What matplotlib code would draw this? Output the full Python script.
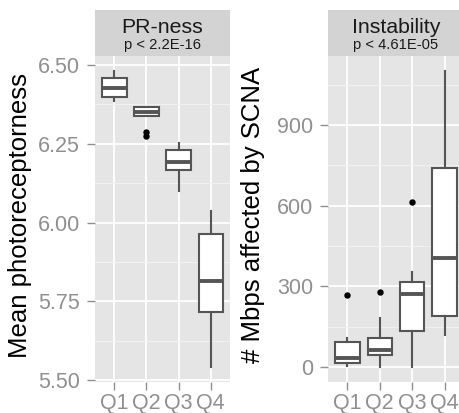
import matplotlib
matplotlib.use('Agg')
import matplotlib.pyplot as plt

plt.rcParams['font.family'] = ['Liberation Sans', 'DejaVu Sans']

# quartile groups
groups = ["Q1", "Q2", "Q3", "Q4"]

# left panel: mean photoreceptorness (box stats)
pr_med = [6.426, 6.352, 6.191, 5.813]
pr_q1 = [6.397, 6.338, 6.168, 5.717]
pr_q3 = [6.458, 6.366, 6.229, 5.964]
pr_lo = [6.387, 6.338, 6.099, 5.542]
pr_hi = [6.481, 6.366, 6.253, 6.038]
pr_out = [[], [6.287, 6.276], [], []]

# right panel: Mbps affected by SCNA
scna_med = [33, 62, 272, 407]
scna_q1 = [16, 43, 134, 191]
scna_q3 = [93, 108, 315, 740]
scna_lo = [3, 0, 0, 119]
scna_hi = [109, 184, 355, 1101]
scna_out = [[269], [278], [613], []]

W, H = 459, 413
fig = plt.figure(figsize=(W / 100, H / 100), dpi=100)
fig.patch.set_facecolor('white')

box_col = '#555555'
tick_col = '#909090'


def panel(x0, x1, ylim, ticks, minor, ticklabels, med, q1, q3, lo, hi, out,
          title, sub, ylabel, ylabel_x):
    top, bot = 56, 382
    ax = fig.add_axes([x0 / W, (H - bot) / H, (x1 - x0) / W, (bot - top) / H])
    ax.set_facecolor('#e5e5e5')
    stats = []
    for i, g in enumerate(groups):
        stats.append(dict(med=med[i], q1=q1[i], q3=q3[i], whislo=lo[i],
                          whishi=hi[i], fliers=out[i], label=g))
    ax.bxp(stats, positions=range(1, 5), widths=0.76, patch_artist=True,
           showcaps=False,
           boxprops=dict(facecolor='white', edgecolor=box_col, linewidth=1.5),
           whiskerprops=dict(color=box_col, linewidth=1.5),
           medianprops=dict(color=box_col, linewidth=2.8, solid_capstyle='butt'),
           flierprops=dict(marker='o', markerfacecolor='black',
                           markeredgecolor='black', markersize=3.6))
    ax.set_xlim(0.4, 4.6)
    ax.set_ylim(*ylim)
    ax.set_yticks(ticks)
    ax.set_yticklabels(ticklabels)
    ax.set_yticks(minor, minor=True)
    ax.grid(which='major', color='white', linewidth=1.3)
    ax.grid(which='minor', axis='y', color='#f2f2f2', linewidth=0.7)
    ax.set_axisbelow(True)
    for s in ax.spines.values():
        s.set_visible(False)
    ax.tick_params(which='major', length=5.8, width=1.0, color=tick_col,
                   labelcolor=tick_col, labelsize=15.5, pad=5)
    ax.tick_params(axis='x', pad=2)
    ax.tick_params(which='minor', length=0)

    # facet strip
    st = fig.add_axes([x0 / W, (H - top) / H, (x1 - x0) / W, 46 / H])
    st.set_facecolor('#d3d3d3')
    st.set_xticks([])
    st.set_yticks([])
    for s in st.spines.values():
        s.set_visible(False)
    st.text(0.5, 0.50, title, ha='center', va='baseline', fontsize=15.3,
            color='#1a1a1a', transform=st.transAxes)
    st.text(0.5, 0.16, sub, ha='center', va='baseline', fontsize=10.6,
            color='#1a1a1a', transform=st.transAxes)

    fig.text(ylabel_x / W, (H - 215) / H, ylabel, rotation=90, ha='center',
             va='center', fontsize=18.5, color='black')
    return ax


panel(95, 230, (5.4937, 6.5286), [5.50, 5.75, 6.00, 6.25, 6.50],
      [5.625, 5.875, 6.125, 6.375], ['5.50', '5.75', '6.00', '6.25', '6.50'],
      pr_med, pr_q1, pr_q3, pr_lo, pr_hi, pr_out,
      'PR-ness', 'p < 2.2E-16', 'Mean photoreceptorness', 20)

panel(328, 464, (-55.8, 1156.6), [0, 300, 600, 900], [150, 450, 750, 1050],
      ['0', '300', '600', '900'],
      scna_med, scna_q1, scna_q3, scna_lo, scna_hi, scna_out,
      'Instability', 'p < 4.61E-05', '# Mbps affected by SCNA', 253)

fig.savefig('out.png', dpi=100)
